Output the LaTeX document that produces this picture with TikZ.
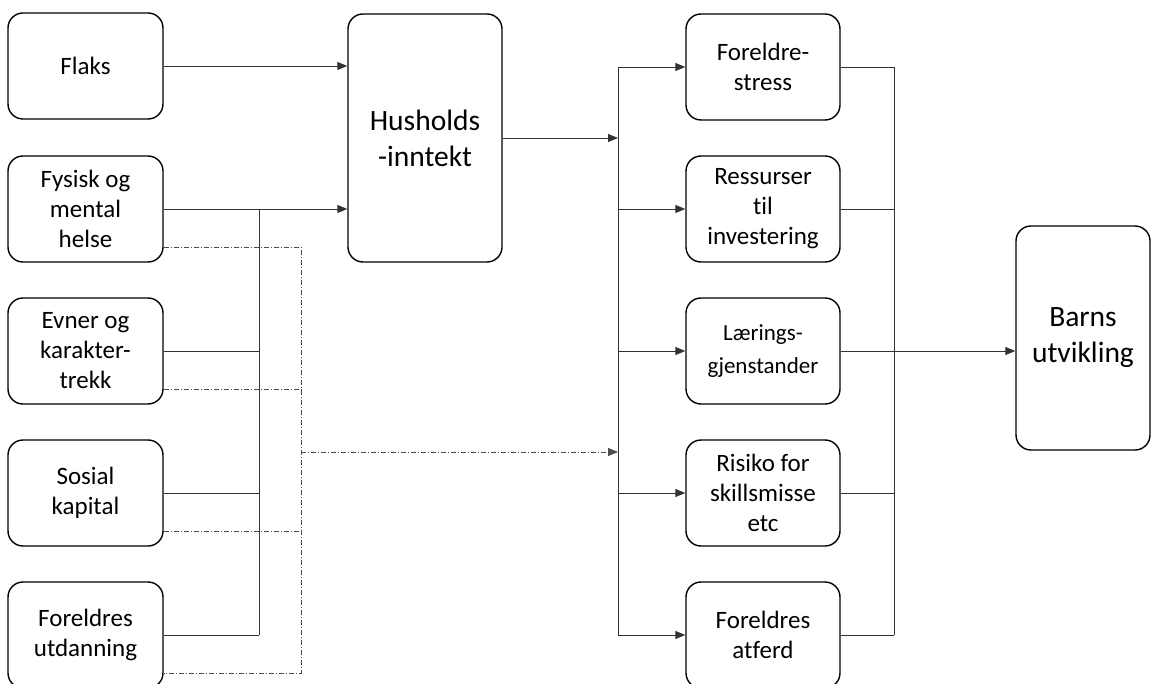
\documentclass[tikz,border=0pt]{standalone}
\usepackage{fontspec}
\setmainfont{Carlito}[Ligatures={NoCommon}]
\usetikzlibrary{arrows.meta}
\begin{document}
\begin{tikzpicture}[x=1pt,y=-1pt,
  box/.style={draw=black,line width=1.4pt,rounded corners=15pt,align=center,
    inner sep=2pt,font=\fontsize{25}{30}\selectfont},
  sbox/.style={box,minimum width=155pt,minimum height=106pt},
  bigbox/.style={box,font=\fontsize{29.5}{36}\selectfont},
  conn/.style={draw=black!80,line width=0.9pt},
  arr/.style={conn,-{Triangle[length=10pt,width=8pt]}},
  dd/.style={draw=black!70,line width=0.9pt,dash pattern=on 5pt off 2pt on 1pt off 2pt},
  ddarr/.style={dd,-{Triangle[length=10pt,width=8pt]}}]
\useasboundingbox (0,0) rectangle (1158,684);
% left column
\node[sbox] (flaks) at (85.5,66) {Flaks};
\node[sbox] (fysisk) at (85.5,209) {Fysisk og\\mental\\helse};
\node[sbox] (evner) at (85.5,351) {Evner og\\karakter-\\trekk};
\node[sbox] (sosial) at (85.5,493) {Sosial\\kapital};
\node[sbox] (utd) at (85.5,635) {Foreldres\\utdanning};
% household income
\node[bigbox,minimum width=154pt,minimum height=248pt] (hh) at (425,138) {Husholds\\-inntekt};
% middle column
\node[sbox,minimum width=154pt] (stress) at (763,67) {Foreldre-\\stress};
\node[sbox,minimum width=154pt] (ress) at (763,209) {Ressurser\\til\\investering};
\node[sbox,minimum width=154pt,font=\fontsize{23}{33}\selectfont] (laer) at (763,351) {Lærings-\\gjenstander};
\node[sbox,minimum width=154pt] (risiko) at (763,493) {Risiko for\\skillsmisse\\etc};
\node[sbox,minimum width=154pt] (atferd) at (763,635) {Foreldres\\atferd};
% outcome
\node[bigbox,minimum width=134pt,minimum height=224pt] (barns) at (1083,338) {Barns\\utvikling};
% junction coordinates
\coordinate (j1) at (259,209);
\coordinate (j2) at (301,247);
\coordinate (f1) at (618,138);
\coordinate (r1) at (894,351);
% left to household income
\draw[arr] (flaks.east) -- (flaks.east -| hh.west);
\draw[arr] (fysisk.east) -- (fysisk.east -| hh.west);
\draw[conn] (fysisk.east -| j1) -- (utd.east -| j1);
\draw[conn] (evner.east) -- (evner.east -| j1);
\draw[conn] (sosial.east) -- (sosial.east -| j1);
\draw[conn] (utd.east) -- (utd.east -| j1);
% dash-dotted direct links
\draw[dd] ([yshift=-38pt]fysisk.east) -- (j2) -- ([yshift=-38pt]utd.east -| j2) -- ([yshift=-38pt]utd.east);
\draw[dd] ([yshift=-38pt]evner.east) -- ([yshift=-38pt]evner.east -| j2);
\draw[dd] ([yshift=-38pt]sosial.east) -- ([yshift=-38pt]sosial.east -| j2);
\coordinate (dstart) at (301,452);
\draw[ddarr] (dstart) -- (dstart -| f1);
% household income to fan
\draw[arr] (hh.east |- f1) -- (f1);
\draw[conn] (stress.west -| f1) -- (atferd.west -| f1);
\foreach \n in {stress,ress,laer,risiko,atferd}
  \draw[arr] (\n.west -| f1) -- (\n.west);
% fan to outcome
\foreach \n in {stress,ress,laer,risiko,atferd}
  \draw[conn] (\n.east) -- (\n.east -| r1);
\draw[conn] (stress.east -| r1) -- (atferd.east -| r1);
\draw[arr] (laer.east) -- (laer.east -| barns.west);
\end{tikzpicture}
\end{document}
